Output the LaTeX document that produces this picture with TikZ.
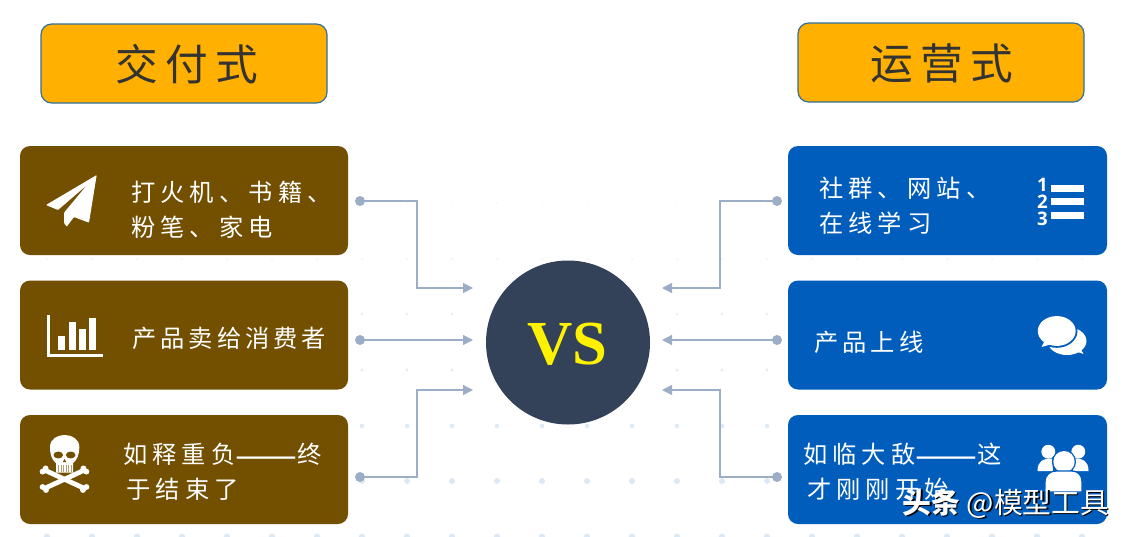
\documentclass[tikz,border=0pt]{standalone}
\usepackage{fontspec}
\usetikzlibrary{arrows.meta,calc}
\setmainfont{Liberation Serif}
\newfontfamily\cjktext[LetterSpace=21]{Noto Sans CJK SC}
\newfontfamily\cjktight[LetterSpace=16.5]{Noto Sans CJK SC}
\newfontfamily\cjktitle[LetterSpace=17]{Noto Sans CJK SC}
\newfontfamily\cjkmark{Noto Sans CJK SC}
\newfontfamily\numfont{Open Sans}
\newcommand{\longdash}{\raisebox{-3.6pt}{\cjkmark\fontsize{27.7}{30}\selectfont ——}}
\definecolor{brownbox}{HTML}{734F00}
\definecolor{bluebox}{HTML}{005DBC}
\definecolor{titlefill}{HTML}{FFB000}
\definecolor{titleedge}{HTML}{2F709E}
\definecolor{hub}{HTML}{334259}
\definecolor{wire}{HTML}{9BAEC6}
\definecolor{griddot}{HTML}{DCE8F3}
\tikzset{
  panelbase/.style={rectangle,inner sep=0pt,minimum width=246pt,minimum height=81.75pt,rounded corners=7.5pt},
  brownpanel/.style={panelbase,fill=brownbox},
  bluepanel/.style={panelbase,fill=bluebox,minimum width=239.25pt},
  titlebox/.style={rectangle,inner sep=0pt,minimum width=214.5pt,minimum height=59.25pt,rounded corners=8pt,fill=titlefill,draw=titleedge,line width=.9pt},
  titletext/.style={inner sep=0pt,text=black!80,font=\cjktitle\fontsize{32}{36}\selectfont},
  bodytext/.style={inner sep=0pt,anchor=west,align=left,text=white,font=\cjktext\fontsize{18.2}{26.25}\selectfont},
  tighttext/.style={bodytext,font=\cjktight\fontsize{18.2}{26.25}\selectfont},
  wiredot/.style={circle,fill=wire,inner sep=0pt,minimum size=7.5pt},
  wireline/.style={draw=wire,line width=1pt,-{Triangle[length=7.5pt,width=7.5pt]}},
  markstyle/.style={inner sep=0pt,anchor=west,font=\cjkmark\fontsize{21.6}{25}\selectfont},
  numstyle/.style={inner sep=0pt,text=white,font=\numfont\bfseries\fontsize{14}{14}\selectfont}
}
\begin{document}
\begin{tikzpicture}[x=.75pt,y=-.75pt]
\useasboundingbox (0,0) rectangle (1126,536);
\fill[white] (0,0) rectangle (1126,536);
% dotted background
\foreach \yy/\rr/\oo in {148/.45/.3,203/.6/.45,259/.75/.6,314/1/.75,370/1.25/.85,426/1.75/.9,481/2.25/1,537/2.5/1}{
  \foreach \k in {0,...,23}{
    \fill[griddot,opacity=\oo] ({47+45*\k},\yy) circle[radius=\rr pt];
  }
}
% title boxes
\node[titlebox] (t1) at (184,63.5) {};
\node[titlebox] (t2) at (941,62.5) {};
\node[titletext] (t1l) at (187,64) {交付式};
\node[titletext] (t2l) at (942,63) {运营式};
% panels
\node[brownpanel] (l1) at (184,200.5) {};
\node[brownpanel] (l2) at (184,335) {};
\node[brownpanel] (l3) at (184,469.5) {};
\node[bluepanel] (r1) at (947.5,200.5) {};
\node[bluepanel] (r2) at (947.5,335) {};
\node[bluepanel] (r3) at (947.5,469.5) {};
% panel texts
\node[bodytext] (l1t) at (131,209.5) {打火机、书籍、\\粉笔、家电};
\node[tighttext] (l2t) at (132,338) {产品卖给消费者};
\node[bodytext] (l3t) at (123,471.5) {如释重负\longdash 终\\\hspace*{2.5pt}于结束了};
\node[bodytext] (r1t) at (819,205.5) {社群、网站、\\在线学习};
\node[tighttext] (r2t) at (814,342) {产品上线};
\node[bodytext] (r3t) at (803,472) {如临大敌\longdash 这\\\hspace*{3pt}才刚刚开始};
% hub
\node[circle,fill=hub,inner sep=0pt,minimum size=123pt] (hubc) at (568,342.5) {};
\node[inner sep=0pt,text=yellow,font=\rmfamily\bfseries\fontsize{47}{50}\selectfont] (vs) at (567.5,344.5) {VS};
% connectors
\node[wiredot] (a1) at (360,201) {};
\node[wiredot] (a2) at (360,340) {};
\node[wiredot] (a3) at (360,477) {};
\node[wiredot] (b1) at (777,201) {};
\node[wiredot] (b2) at (777,340) {};
\node[wiredot] (b3) at (777,477) {};
\coordinate (e1) at (473,288);
\coordinate (e2) at (473,340);
\coordinate (e3) at (473,390);
\coordinate (f1) at (662,288);
\coordinate (f2) at (662,340);
\coordinate (f3) at (662,390);
\draw[wireline] (a1.center) -- ++(57,0) |- (e1);
\draw[wireline] (a2.center) -- (e2);
\draw[wireline] (a3.center) -- ++(57,0) |- (e3);
\draw[wireline] (b1.center) -- ++(-57,0) |- (f1);
\draw[wireline] (b2.center) -- (f2);
\draw[wireline] (b3.center) -- ++(-57,0) |- (f3);
% paper plane
\fill[white,rounded corners=.6pt] (96.7,175) -- (46,205) -- (58,210) -- (87,185) -- (64,212.7) -- (64,223) -- (66.7,226.7) -- (74,217) -- (89,222.7) -- cycle;
% bar chart
\fill[white] (47.3,315) rectangle (49.6,357);
\fill[white] (47.3,353.5) rectangle (103,357);
\fill[white] (58,336) rectangle (65,349.5);
\fill[white] (68.7,321.7) rectangle (75.5,349.5);
\fill[white] (79,328.7) rectangle (86,349.5);
\fill[white] (89.3,318) rectangle (96,349.5);
% skull and bones
\draw[white,line width=3.6pt,line cap=round] (45.5,470.5) -- (83.5,488);
\draw[white,line width=3.6pt,line cap=round] (83.5,470.5) -- (45.5,488);
\foreach \pp in {(42.6,471.6),(45.6,468.4),(86.4,471.6),(83.4,468.4),(42.6,487),(46,490),(86.4,487),(83,490)}{
  \fill[white] \pp circle[radius=2.2pt];
}
\fill[white] (50,447) .. controls (50,431) and (79.3,431) .. (79.3,447) .. controls (79.3,455) and (77,460) .. (73,463) -- (73,472.5) -- (56,472.5) -- (56,463) .. controls (52,460) and (50,455) .. (50,447) -- cycle;
\fill[brownbox] (58.3,455) ellipse[x radius=3.6pt,y radius=2.6pt];
\fill[brownbox] (70.7,455) ellipse[x radius=3.6pt,y radius=2.6pt];
\fill[brownbox] (64.5,459) -- (62.8,462) -- (66.2,462) -- cycle;
\foreach \tx in {58.5,61,63.5,66,68.5,71}{
  \draw[brownbox!55!white,line width=.5pt] (\tx,465) -- (\tx,472);
}
% numbered list
\fill[white] (1050.7,185) rectangle (1084,191.7);
\fill[white] (1050.7,198.3) rectangle (1084,205);
\fill[white] (1050.7,212) rectangle (1084,218.7);
\node[numstyle] (n1) at (1042.5,185) {1};
\node[numstyle] (n2) at (1042.5,202) {2};
\node[numstyle] (n3) at (1042.5,219) {3};
% chat bubbles
\fill[white] (1067,341) ellipse[x radius=14.6pt,y radius=10.5pt];
\fill[white] (1072,350) -- (1083.5,354) -- (1079,346) -- cycle;
\fill[bluebox] (1056.7,331) ellipse[x radius=15.6pt,y radius=12.6pt];
\fill[bluebox] (1040,349) -- (1056,345) -- (1046,338) -- cycle;
\fill[white] (1056.7,331) ellipse[x radius=14.2pt,y radius=11.2pt];
\fill[white] (1041.5,347) -- (1054,343.5) -- (1046.5,337) -- cycle;
% people
\fill[white] (1048.3,451.7) circle[radius=5.2pt];
\fill[white] (1078.3,451.7) circle[radius=5.2pt];
\fill[white] (1037.5,471) .. controls (1037.5,461) and (1043,458.5) .. (1052,458.5) -- (1053,471) -- cycle;
\fill[white] (1088.5,471) .. controls (1088.5,461) and (1083,458.5) .. (1074,458.5) -- (1073,471) -- cycle;
\fill[bluebox] (1064,461.7) circle[radius=9pt];
\fill[white] (1064,461.7) circle[radius=8pt];
\draw[bluebox,line width=1pt,fill=white] (1045,492) -- (1045,482) .. controls (1045,474) and (1051,471) .. (1056,471) -- (1072,471) .. controls (1077,471) and (1082,474) .. (1082,482) -- (1082,492) -- cycle;
% watermark
\node[markstyle,text=black] (m0) at (903.8,504.8) {\textbf{头条} @模型工具};
\node[markstyle,text=white] (m1) at (902.5,503.5) {\textbf{头条} @模型工具};
\end{tikzpicture}
\end{document}
